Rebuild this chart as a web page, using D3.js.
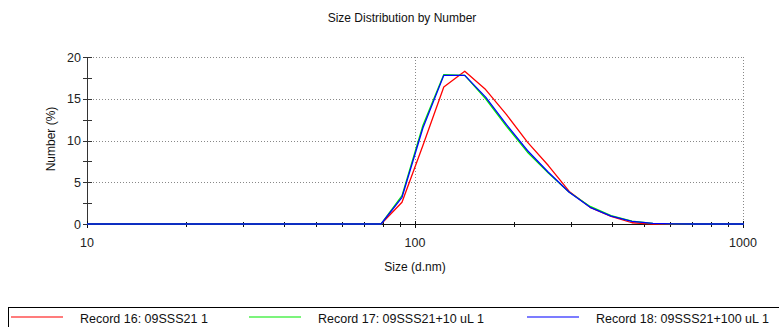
<!DOCTYPE html>
<html>
<head>
<meta charset="utf-8">
<script src="https://cdn.jsdelivr.net/npm/d3@7/dist/d3.min.js"></script>
<style>
  html, body { margin: 0; padding: 0; background: #fff; }
  svg { display: block; font-family: "Liberation Sans", Arial, sans-serif; }
</style>
</head>
<body>
<svg id="chart" width="779" height="327"></svg>
<script>
// Size bins (d.nm) of the distribution
const sizes = [8.721, 10.1, 11.7, 13.54, 15.69, 18.17, 21.04, 24.36, 28.21, 32.67, 37.84,
  43.82, 50.75, 58.77, 68.06, 78.82, 91.28, 105.7, 122.4, 141.8, 164.2, 190.1, 220.2,
  255.0, 295.3, 342.0, 396.1, 458.7, 531.2, 615.1, 712.4, 825.0, 955.4, 1106];

// Number (%) per bin for each record
const record16 = [0, 0, 0, 0, 0, 0, 0, 0, 0, 0, 0, 0, 0, 0, 0, 0,
  2.6, 9.4, 16.4, 18.3, 16.1, 13.1, 9.8, 7.0, 3.9, 2.0, 0.9, 0.15, 0, 0, 0, 0, 0, 0];
const record17 = [0, 0, 0, 0, 0, 0, 0, 0, 0, 0, 0, 0, 0, 0, 0, 0,
  3.4, 11.8, 17.9, 17.8, 15.0, 11.7, 8.6, 6.1, 3.8, 2.1, 1.0, 0.35, 0.08, 0.01, 0, 0, 0, 0];
const record18 = [0, 0, 0, 0, 0, 0, 0, 0, 0, 0, 0, 0, 0, 0, 0, 0,
  3.2, 11.5, 17.8, 17.8, 15.2, 11.9, 8.8, 6.2, 3.8, 2.0, 0.95, 0.32, 0.07, 0.01, 0, 0, 0, 0];

const seriesNames = ["Record 16: 09SSS21 1", "Record 17: 09SSS21+10 uL 1", "Record 18: 09SSS21+100 uL 1"];
const seriesColors = ["#ff0000", "#00ee00", "#0000ff"];
const legendColors = ["#ff5050", "#50f050", "#5050ff"];

const xTickLabels = [10, 100, 1000];
const yTickLabels = [0, 5, 10, 15, 20];

const series = [record16, record17, record18].map((vals, i) => ({
  name: seriesNames[i],
  color: seriesColors[i],
  points: sizes.map((s, j) => ({ size: s, value: vals[j] }))
}));

const svg = d3.select("#chart");
const plotLeft = 87, plotRight = 743, plotTop = 57, plotBottom = 224;

const x = d3.scaleLog().domain([10, 1000]).range([plotLeft, plotRight]);
const y = d3.scaleLinear().domain([0, 20]).range([plotBottom, plotTop]);

svg.append("defs").append("clipPath").attr("id", "plotClip")
  .append("rect").attr("x", plotLeft).attr("y", plotTop - 5)
  .attr("width", plotRight - plotLeft + 1).attr("height", plotBottom - plotTop + 10);

// Title
svg.append("text").attr("x", 402).attr("y", 22).attr("text-anchor", "middle")
  .attr("font-size", 12).attr("fill", "#111").text("Size Distribution by Number");

// Dotted grid
const grid = svg.append("g").attr("stroke", "#888").attr("stroke-width", 1)
  .attr("stroke-dasharray", "1,2").attr("fill", "none");
yTickLabels.filter(v => v > 0).forEach(v => {
  grid.append("line").attr("x1", plotLeft + 3).attr("x2", plotRight)
    .attr("y1", Math.round(y(v)) + 0.5).attr("y2", Math.round(y(v)) + 0.5);
});
xTickLabels.filter(v => v > 10).forEach(v => {
  grid.append("line").attr("x1", Math.round(x(v)) + 0.5).attr("x2", Math.round(x(v)) + 0.5)
    .attr("y1", plotTop).attr("y2", plotBottom);
});

// Y axis with crossing ticks (major and half steps)
const yAxisG = svg.append("g").attr("stroke", "#333").attr("stroke-width", 1);
yAxisG.append("line").attr("x1", plotLeft + 0.5).attr("x2", plotLeft + 0.5)
  .attr("y1", plotTop).attr("y2", plotBottom + 1);
d3.range(0, 20.01, 2.5).forEach(v => {
  yAxisG.append("line").attr("x1", plotLeft - 4).attr("x2", plotLeft + 5)
    .attr("y1", Math.round(y(v)) + 0.5).attr("y2", Math.round(y(v)) + 0.5);
});
svg.append("g").selectAll("text").data(yTickLabels).join("text")
  .attr("x", plotLeft - 6).attr("y", d => y(d) + 4.5).attr("text-anchor", "end")
  .attr("font-size", 12.5).attr("fill", "#222").text(d => d);

// X axis with log ticks
const xAxisG = svg.append("g").attr("stroke", "#111").attr("stroke-width", 1);
xAxisG.append("line").attr("x1", plotLeft).attr("x2", plotRight + 1)
  .attr("y1", plotBottom + 0.5).attr("y2", plotBottom + 0.5);
const minorX = [];
[10, 100].forEach(d => { for (let k = 2; k <= 9; k++) minorX.push(d * k); });
minorX.forEach(v => {
  xAxisG.append("line").attr("x1", Math.round(x(v)) + 0.5).attr("x2", Math.round(x(v)) + 0.5)
    .attr("y1", plotBottom - 2).attr("y2", plotBottom + 3);
});
xTickLabels.forEach(v => {
  xAxisG.append("line").attr("x1", Math.round(x(v)) + 0.5).attr("x2", Math.round(x(v)) + 0.5)
    .attr("y1", plotBottom - 3).attr("y2", plotBottom + 4);
});
svg.append("g").selectAll("text").data(xTickLabels).join("text")
  .attr("x", d => x(d)).attr("y", 247).attr("text-anchor", "middle")
  .attr("font-size", 12.5).attr("fill", "#222").text(d => d);

// Axis titles
svg.append("text").attr("x", 415).attr("y", 271).attr("text-anchor", "middle")
  .attr("font-size", 12).attr("fill", "#111").text("Size (d.nm)");
svg.append("text").attr("transform", "translate(55,139) rotate(-90)")
  .attr("text-anchor", "middle").attr("font-size", 12).attr("fill", "#111").text("Number (%)");

// Distribution curves
const line = d3.line().x(d => x(d.size)).y(d => y(d.value));
svg.append("g").attr("clip-path", "url(#plotClip)").selectAll("path").data(series).join("path")
  .attr("d", d => line(d.points)).attr("fill", "none")
  .attr("stroke", d => d.color).attr("stroke-width", 1.3)
  .attr("stroke-linejoin", "round");

// Legend
const legend = svg.append("g");
legend.append("rect").attr("x", 8.5).attr("y", 307.5).attr("width", 800).attr("height", 40)
  .attr("fill", "none").attr("stroke", "#000").attr("stroke-width", 1);
const legendX = [11, 249, 527];
series.forEach((s, i) => {
  legend.append("line").attr("x1", legendX[i]).attr("x2", legendX[i] + 52)
    .attr("y1", 317).attr("y2", 317).attr("stroke", legendColors[i]).attr("stroke-width", 1.3);
  legend.append("text").attr("x", legendX[i] + 69).attr("y", 323)
    .attr("font-size", 12.5).attr("fill", "#111").text(s.name);
});
</script>
</body>
</html>
